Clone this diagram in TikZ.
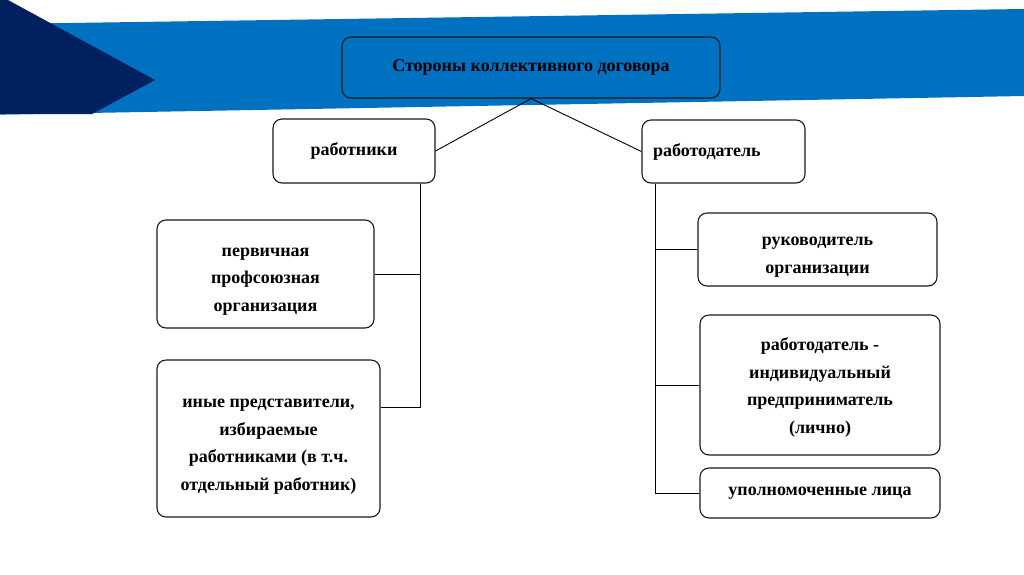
\documentclass[tikz,border=0pt]{standalone}
\usepackage{fontspec}
\setmainfont{Liberation Serif}
\definecolor{bandblue}{RGB}{0,112,192}
\definecolor{navy}{RGB}{0,32,96}

\begin{document}
\begin{tikzpicture}[x=1pt,y=-1pt,
    part/.style={draw=black!90,line width=1.1pt,rounded corners=9pt,align=center,inner sep=0pt,
      font=\bfseries\fontsize{18}{27.5}\selectfont},
    link/.style={draw=black,line width=0.9pt}]
    \useasboundingbox (0,0) rectangle (1024,574);
    % background band
    \fill[bandblue] (0,24) -- (1024,9) -- (1024,96) -- (0,114.6) -- cycle;
    \fill[navy] (0,0) -- (8,0) -- (155,80) -- (92,114) -- (0,114) -- cycle;
    % boxes
    \node[part,minimum width=378,minimum height=61] (sides) at (531,67.5) {Стороны коллективного договора};
    \node[part,minimum width=162,minimum height=64] (wrk) at (354,151) {работники};
    \node[part,minimum width=163,minimum height=63,text width=141,align=left] (emp) at (723.5,151.5) {работодатель};
    \node[part,minimum width=217,minimum height=108] (prof) at (265.5,274) {\rule{0pt}{23pt}первичная\\профсоюзная\\организация};
    \node[part,minimum width=223,minimum height=157] (oth) at (268.5,438.5) {\rule{0pt}{25pt}иные представители,\\избираемые\\работниками (в т.ч.\\отдельный работник)};
    \node[part,minimum width=239,minimum height=73] (head) at (817.5,249.5) {\rule{0pt}{24pt}руководитель\\организации};
    \node[part,minimum width=240,minimum height=140] (ip) at (820,385) {\rule{0pt}{18pt}работодатель -\\индивидуальный\\предприниматель\\(лично)};
    \node[part,minimum width=240,minimum height=50] (auth) at (820,493) {уполномоченные лица};
    % connectors
    \coordinate (lbus) at (420,407);
    \coordinate (rbus) at (655,493);
    \draw[link] (wrk.east) -- (sides.south) -- (emp.west);
    \draw[link] (wrk.south -| lbus) -- (lbus) -- (lbus -| oth.east);
    \draw[link] (lbus |- prof.east) -- (prof.east);
    \draw[link] (emp.south -| rbus) -- (rbus) -- (auth.west);
    \draw[link] (rbus |- head.west) -- (head.west);
    \draw[link] (rbus |- ip.west) -- (ip.west);
\end{tikzpicture}
\end{document}
